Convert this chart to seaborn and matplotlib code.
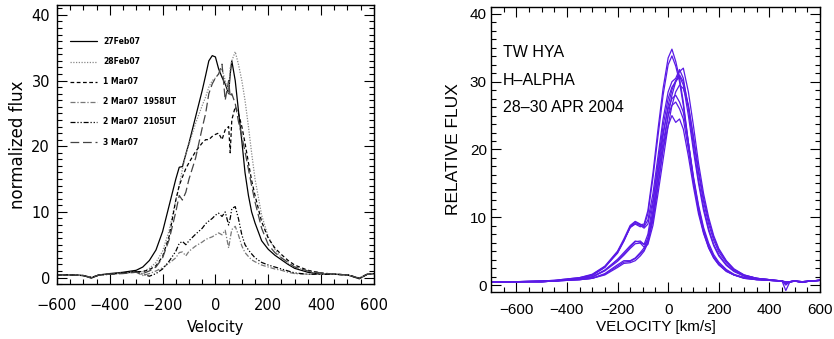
import numpy as np
import pandas as pd
import seaborn as sns
import matplotlib.pyplot as plt
from matplotlib.ticker import MultipleLocator

# --- left panel: line profiles, Feb/Mar 2007 ---
vel_l = [-600, -550, -500, -470, -440, -400, -350, -300, -275, -250, -225, -200,
         -175, -150, -137, -125, -112, -100, -75, -50, -37, -25, -12, 0,
         12, 25, 37, 50, 56, 62, 75, 87, 100, 112, 125, 137, 150, 175, 200,
         225, 250, 275, 300, 350, 400, 450, 500, 545, 575, 600]

feb27 = [0.4, 0.4, 0.3, -0.1, 0.4, 0.6, 0.8, 1.1, 1.6, 2.6, 4.2, 7.0,
         11.0, 15.0, 16.8, 16.9, 18.8, 20.5, 24.5, 28.5, 30.8, 33.0, 33.8, 33.6,
         31.8, 30.5, 29.5, 28.0, 31.0, 33.0, 30.0, 25.5, 20.8, 16.0, 12.5, 10.0, 8.3, 5.6, 4.3,
         3.4, 2.7, 2.0, 1.4, 0.8, 0.5, 0.5, 0.4, -0.2, 0.5, 0.6]
feb28 = [0.4, 0.4, 0.3, 0.0, 0.4, 0.5, 0.7, 0.8, 0.9, 1.4, 2.3, 4.0,
         7.2, 11.8, 14.0, 16.5, 18.8, 20.3, 23.5, 26.2, 27.5, 29.0, 30.0, 30.4,
         31.0, 31.8, 30.0, 28.0, 32.0, 33.0, 34.4, 32.5, 30.0, 27.0, 23.0, 19.0, 15.0, 9.5, 6.2,
         4.3, 3.0, 2.2, 1.6, 1.0, 0.6, 0.5, 0.4, -0.1, 0.5, 0.6]
mar01 = [0.4, 0.4, 0.3, 0.0, 0.4, 0.5, 0.7, 0.9, 0.9, 1.2, 1.8, 3.2,
         6.3, 11.8, 14.0, 15.3, 16.6, 17.5, 19.2, 20.5, 21.0, 21.0, 21.5, 21.8,
         22.0, 21.0, 22.5, 23.0, 19.0, 24.0, 26.0, 25.0, 23.0, 20.5, 17.5, 14.8, 12.5, 8.5, 6.0,
         4.5, 3.5, 2.6, 1.9, 1.1, 0.7, 0.5, 0.4, -0.1, 0.5, 0.6]
mar02a = [0.4, 0.4, 0.3, 0.0, 0.4, 0.5, 0.7, 0.8, 0.3, 0.6, 1.0, 1.5,
          2.2, 3.0, 3.8, 3.9, 3.3, 4.0, 4.8, 5.4, 5.8, 6.0, 6.2, 6.5,
          6.8, 6.5, 7.2, 4.5, 6.0, 7.3, 7.8, 6.5, 4.8, 3.8, 3.2, 2.7, 2.4, 1.9, 1.6,
          1.3, 1.1, 0.8, 0.6, 0.5, 0.5, 0.5, 0.4, -0.1, 0.5, 0.6]
mar02b = [0.4, 0.4, 0.3, 0.0, 0.4, 0.5, 0.7, 0.9, 0.5, 0.2, 0.6, 1.3,
          2.5, 4.0, 5.2, 5.5, 5.0, 5.6, 6.6, 7.5, 8.2, 8.6, 9.0, 9.5,
          9.8, 9.3, 10.0, 8.0, 9.0, 10.5, 10.8, 9.0, 6.5, 5.0, 4.2, 3.6, 3.0, 2.3, 1.9,
          1.6, 1.3, 1.0, 0.7, 0.5, 0.5, 0.5, 0.4, -0.1, 0.5, 0.6]
mar03 = [0.4, 0.4, 0.3, 0.0, 0.4, 0.5, 0.6, 0.8, 0.6, 1.0, 1.6, 3.0,
         5.8, 10.0, 12.5, 11.8, 13.0, 15.0, 18.2, 22.8, 25.0, 28.0, 29.5, 30.4,
         31.0, 32.5, 27.0, 30.0, 27.5, 28.0, 26.5, 23.8, 21.5, 19.2, 16.5, 14.0, 11.5, 7.5, 5.0,
         3.8, 3.0, 2.3, 1.6, 1.0, 0.7, 0.5, 0.4, -0.1, 0.5, 0.6]

labels_l = ["27Feb07", "28Feb07", "1 Mar07", "2 Mar07  1958UT", "2 Mar07  2105UT", "3 Mar07"]
series_l = [feb27, feb28, mar01, mar02a, mar02b, mar03]

# --- right panel: TW Hya H-alpha, 28-30 Apr 2004 ---
vel_r = [-700, -600, -500, -450, -400, -350, -300, -250, -200,
         -175, -150, -130, -110, -95, -80, -60, -40, -20,
         0, 15, 30, 45, 60, 80, 100, 120, 140, 160,
         180, 200, 230, 260, 300, 350, 400, 450,
         465, 480, 500, 530, 560, 600]

a1 = [0.5, 0.5, 0.6, 0.6, 0.8, 1.0, 1.4, 2.6, 4.8, 6.5, 8.6, 9.3, 8.9, 9.0, 11.0, 16.5, 23.0, 29.0,
      33.5, 34.8, 33.0, 30.5, 27.0, 21.0, 15.5, 11.0, 7.8, 5.5, 4.0, 3.0, 2.0, 1.5, 1.1, 0.9, 0.7, 0.6,
      0.4, 0.5, 0.6, 0.5, 0.6, 0.7]
a2 = [0.5, 0.5, 0.6, 0.6, 0.8, 1.0, 1.5, 2.7, 4.9, 6.6, 8.5, 9.0, 8.6, 8.8, 10.5, 15.8, 22.0, 28.0,
      32.5, 33.8, 32.3, 30.0, 26.5, 21.0, 15.8, 11.5, 8.2, 5.8, 4.2, 3.1, 2.1, 1.5, 1.1, 0.9, 0.7, 0.6,
      0.5, 0.5, 0.6, 0.5, 0.6, 0.7]
a3 = [0.4, 0.5, 0.6, 0.7, 0.9, 1.1, 1.6, 2.8, 5.0, 6.8, 8.8, 9.4, 9.0, 8.6, 9.6, 13.5, 19.0, 24.5,
      28.5, 30.0, 30.5, 31.8, 30.5, 26.0, 20.5, 15.5, 11.5, 8.3, 6.0, 4.5, 3.0, 2.1, 1.4, 1.0, 0.8, 0.6,
      0.2, 0.5, 0.6, 0.4, 0.6, 0.7]
a4 = [0.5, 0.5, 0.6, 0.7, 0.9, 1.1, 1.5, 2.7, 4.7, 6.5, 8.5, 9.1, 8.8, 8.4, 9.0, 12.5, 18.0, 23.5,
      27.5, 29.2, 30.0, 30.8, 29.5, 25.0, 19.8, 15.0, 11.0, 8.0, 5.8, 4.3, 2.9, 2.0, 1.3, 0.9, 0.7, 0.6,
      0.3, 0.5, 0.6, 0.4, 0.6, 0.7]
b1 = [0.5, 0.5, 0.5, 0.6, 0.8, 0.9, 1.2, 2.2, 3.7, 4.6, 5.6, 6.4, 6.5, 6.0, 6.5, 9.5, 14.5, 20.0,
      25.0, 28.0, 30.0, 31.5, 32.0, 28.5, 23.5, 18.0, 13.5, 10.0, 7.3, 5.4, 3.6, 2.4, 1.5, 1.0, 0.8, 0.6,
      -0.8, 0.4, 0.6, 0.4, 0.6, 0.7]
b2 = [0.5, 0.5, 0.5, 0.6, 0.8, 0.9, 1.2, 2.1, 3.5, 4.4, 5.4, 6.1, 6.2, 5.6, 6.0, 8.8, 13.5, 18.5,
      23.5, 26.5, 28.5, 29.5, 29.0, 26.5, 22.0, 17.0, 12.8, 9.5, 7.0, 5.2, 3.5, 2.3, 1.5, 1.0, 0.8, 0.6,
      0.0, 0.5, 0.6, 0.4, 0.6, 0.7]
b3 = [0.5, 0.5, 0.5, 0.6, 0.8, 0.9, 1.2, 2.2, 3.8, 4.8, 5.8, 6.5, 6.3, 6.0, 7.5, 12.0, 17.5, 22.5,
      26.0, 27.5, 28.0, 27.0, 25.5, 21.0, 16.0, 11.8, 8.5, 6.2, 4.5, 3.4, 2.3, 1.6, 1.1, 0.8, 0.7, 0.6,
      0.4, 0.5, 0.6, 0.5, 0.6, 0.7]
c1 = [0.5, 0.5, 0.5, 0.6, 0.7, 0.8, 1.0, 1.7, 3.0, 3.6, 3.6, 4.0, 4.8, 5.5, 7.0, 11.0, 16.5, 22.0,
      26.5, 28.8, 30.2, 31.0, 30.0, 26.5, 21.5, 16.5, 12.3, 9.0, 6.6, 4.9, 3.3, 2.2, 1.4, 1.0, 0.8, 0.6,
      0.2, 0.4, 0.6, 0.4, 0.6, 0.7]
c2 = [0.5, 0.5, 0.5, 0.6, 0.7, 0.8, 1.0, 1.6, 2.8, 3.4, 3.5, 3.9, 4.6, 5.2, 6.5, 10.5, 16.0, 21.0,
      25.0, 26.5, 27.0, 26.0, 24.5, 20.0, 15.2, 11.0, 7.9, 5.7, 4.2, 3.2, 2.2, 1.5, 1.0, 0.8, 0.7, 0.6,
      0.4, 0.5, 0.6, 0.5, 0.6, 0.7]
c3 = [0.5, 0.5, 0.5, 0.6, 0.7, 0.8, 1.0, 1.5, 2.6, 3.2, 3.3, 3.6, 4.3, 5.0, 6.2, 10.0, 15.0, 20.0,
      23.5, 25.0, 24.0, 24.5, 23.0, 19.0, 14.5, 10.5, 7.6, 5.5, 4.0, 3.0, 2.1, 1.5, 1.0, 0.8, 0.7, 0.6,
      0.4, 0.5, 0.6, 0.5, 0.6, 0.7]
series_r = [a1, a2, a3, a4, b1, b2, b3, c1, c2, c3]

df_l = pd.concat([pd.DataFrame({"vel": vel_l, "flux": f, "night": lab})
                  for f, lab in zip(series_l, labels_l)])
df_r = pd.concat([pd.DataFrame({"vel": vel_r, "flux": f, "spec": i})
                  for i, f in enumerate(series_r)])

sns.set_style("ticks")
plt.rcParams["font.family"] = ["DejaVu Sans"]
for key in ["text.color", "axes.labelcolor", "xtick.color", "ytick.color", "axes.edgecolor"]:
    plt.rcParams[key] = "black"

fig = plt.figure(figsize=(8.34, 3.39), dpi=100)
ax1 = fig.add_axes([0.0683, 0.162, 0.380, 0.823])
ax2 = fig.add_axes([0.5887, 0.139, 0.3945, 0.840])

# left panel
colors = {"27Feb07": "black", "28Feb07": "#888888", "1 Mar07": "black",
          "2 Mar07  1958UT": "#777777", "2 Mar07  2105UT": "black", "3 Mar07": "#444444"}
dashes = {"27Feb07": "", "28Feb07": (1, 1.2), "1 Mar07": (3, 2),
          "2 Mar07  1958UT": (4, 1.5, 1, 1.5), "2 Mar07  2105UT": (4, 1.5, 1, 1.5, 1, 1.5),
          "3 Mar07": (7, 3)}
sns.lineplot(data=df_l, x="vel", y="flux", hue="night", style="night",
             palette=colors, dashes=dashes, linewidth=0.9, ax=ax1, legend="full")
leg = ax1.get_legend()
handles = leg.legend_handles
texts = [t.get_text() for t in leg.get_texts()]
ax1.legend(handles, texts, loc="upper left", bbox_to_anchor=(0.04, 0.885),
           frameon=False, borderpad=0, borderaxespad=0, handlelength=3.6,
           handletextpad=0.8, labelspacing=1.45,
           prop={"size": 5.5, "weight": "bold"})

ax1.set_xlim(-600, 600)
ax1.set_ylim(-1, 41.5)
ax1.xaxis.set_major_locator(MultipleLocator(200))
ax1.xaxis.set_minor_locator(MultipleLocator(50))
ax1.yaxis.set_major_locator(MultipleLocator(10))
ax1.yaxis.set_minor_locator(MultipleLocator(1))
ax1.set_xlabel("Velocity", fontsize=10.5, labelpad=5)
ax1.set_ylabel("normalized flux", fontsize=12, labelpad=3)

# right panel
violet = "#5a1ae6"
sns.lineplot(data=df_r, x="vel", y="flux", units="spec", estimator=None,
             color=violet, linewidth=0.9, ax=ax2)
ax2.set_xlim(-700, 600)
ax2.set_ylim(-1, 41)
ax2.xaxis.set_major_locator(MultipleLocator(200))
ax2.xaxis.set_minor_locator(MultipleLocator(50))
ax2.yaxis.set_major_locator(MultipleLocator(10))
ax2.yaxis.set_minor_locator(MultipleLocator(1.25))
rfont = ["Liberation Sans", "DejaVu Sans"]
ax2.set_xlabel("VELOCITY [km/s]", fontsize=11, family=rfont, labelpad=2)
ax2.set_ylabel("RELATIVE FLUX", fontsize=12.5, family=rfont, labelpad=6)
for lab in ax2.get_xticklabels() + ax2.get_yticklabels():
    lab.set_family(rfont)
for txt, yy in [("TW HYA", 0.842), ("H–ALPHA", 0.744), ("28–30 APR 2004", 0.649)]:
    ax2.text(0.036, yy, txt, transform=ax2.transAxes, fontsize=11.5,
             family=rfont, va="center", ha="left")

for ax in (ax1, ax2):
    ax.tick_params(which="both", direction="in", top=True, right=True,
                   labelsize=11, width=0.8, color="black")
    ax.tick_params(which="major", length=7)
    ax.tick_params(which="minor", length=3.5)
    for sp in ax.spines.values():
        sp.set_linewidth(1.0)
        sp.set_color("black")
ax1.tick_params(labelsize=10.5)
ax1.tick_params(axis="x", which="major", pad=10)
ax1.tick_params(axis="y", which="major", pad=5)
ax2.tick_params(axis="x", which="major", pad=8)
ax2.tick_params(axis="y", which="major", pad=3)

fig.savefig("out.png", dpi=100)
